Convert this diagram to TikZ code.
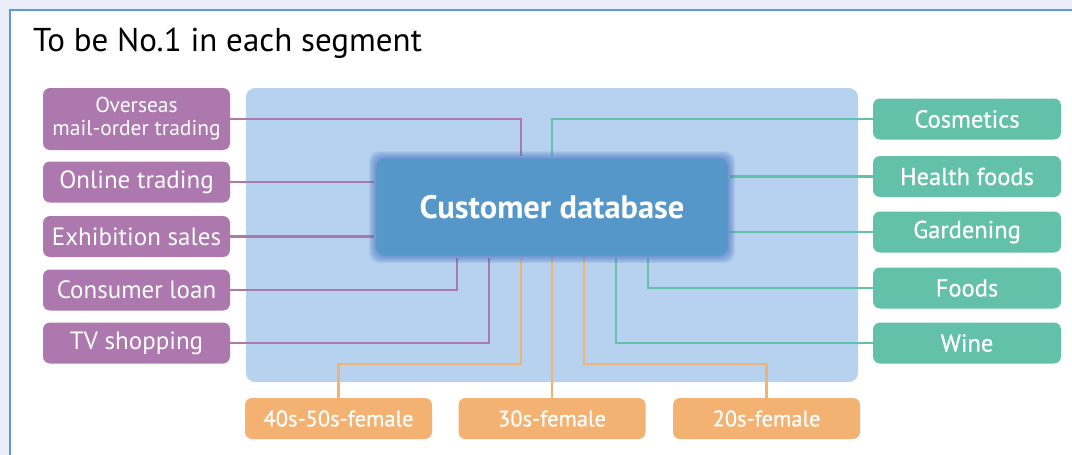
\documentclass[tikz,border=0pt]{standalone}
\usepackage{fontspec}
\setmainfont{PT Sans}
\newfontfamily\semib{PT Sans}[FakeBold=0.6]
\definecolor{bgout}{HTML}{E9EEF8}
\definecolor{framec}{HTML}{5B9BD2}
\definecolor{panelc}{HTML}{B7D2EE}
\definecolor{dbc}{HTML}{5597C8}
\definecolor{glowc}{HTML}{4570C8}
\definecolor{purp}{HTML}{AC78AE}
\definecolor{teal}{HTML}{63C1AA}
\definecolor{oran}{HTML}{F4B272}
\tikzset{
  box/.style={rounded corners=7pt, inner sep=0pt, text=white, align=center, font=\fontsize{25}{26}\selectfont},
  lbox/.style={box, fill=purp, minimum width=187pt, minimum height=41pt},
  rbox/.style={box, fill=teal, minimum width=188pt, minimum height=41pt, font=\semib\fontsize{24.5}{26}\selectfont},
  bbox/.style={box, fill=oran, minimum width=187pt, minimum height=41pt, font=\semib\fontsize{22.5}{24}\selectfont},
  pline/.style={draw=purp, line width=2.6pt},
  tline/.style={draw=teal, line width=2.6pt},
  oline/.style={draw=oran, line width=2.6pt},
}
\begin{document}
\begin{tikzpicture}[x=1pt,y=-1pt]
\useasboundingbox (0,0) rectangle (1072,455);
\clip (0,0) rectangle (1072,455);
\fill[bgout] (0,0) rectangle (1072,455);
\draw[framec, fill=white, line width=2pt] (10,10) rectangle (1090,470);
\node[anchor=west, inner sep=0pt, font=\fontsize{33}{34}\selectfont] (title) at (33,43) {To be No.1 in each segment};
\fill[panelc, rounded corners=9pt] (246,88) rectangle (858,382);
% boxes
\node[lbox, minimum height=62pt, font=\fontsize{21.5}{23}\selectfont] (L1) at (136.5,119) {Overseas\\mail-order trading};
\node[lbox] (L2) at (136.5,182) {Online trading};
\node[lbox] (L3) at (136.5,236.5) {Exhibition sales};
\node[lbox] (L4) at (136.5,290) {Consumer loan};
\node[lbox] (L5) at (136.5,343) {TV shopping};
\node[rbox] (R1) at (967,119) {Cosmetics};
\node[rbox] (R2) at (967,176.5) {Health foods};
\node[rbox] (R3) at (967,232) {Gardening};
\node[rbox] (R4) at (967,288) {Foods};
\node[rbox] (R5) at (967,343) {Wine};
\node[bbox] (B1) at (338.5,418.5) {40s-50s-female};
\node[bbox] (B2) at (552,418.5) {30s-female};
\node[bbox] (B3) at (766.5,418.5) {20s-female};
% central node placeholder for anchors
\node[inner sep=0pt, minimum width=356pt, minimum height=102pt] (db) at (552,207) {};
% connectors
\draw[pline] (L1.east) -| ([xshift=-31pt]db.north);
\draw[pline] (L2.east) -- (L2.east -| db.west);
\draw[pline] (L3.east) -- (L3.east -| db.west);
\draw[pline] (L4.east) -| ([xshift=-95pt]db.south);
\draw[pline] (L5.east) -| ([xshift=-63pt]db.south);
\draw[tline] (R1.west) -| (db.north);
\draw[tline] (R2.west) -- (R2.west -| db.east);
\draw[tline] (R3.west) -- (R3.west -| db.east);
\draw[tline] (R4.west) -| ([xshift=96pt]db.south);
\draw[tline] (R5.west) -| ([xshift=64pt]db.south);
\draw[oline] (B1.north) |- (338.5,364) -| ([xshift=-31pt]db.south);
\draw[oline] (B2.north) -- (db.south);
\draw[oline] (B3.north) |- (766.5,364) -| ([xshift=32pt]db.south);
% glow and central box
\foreach \i in {5,4,...,-2} {
  \fill[glowc, opacity=0.11, rounded corners=10pt] (374-\i,156-\i) rectangle (730+\i,258+\i);
}
\fill[dbc, rounded corners=8pt] (376.5,158.5) rectangle (727.5,255.5);
\node[inner sep=0pt, text=white, font=\bfseries\fontsize{32.5}{34}\selectfont] (dbt) at (db.center) {Customer database};
\end{tikzpicture}
\end{document}
